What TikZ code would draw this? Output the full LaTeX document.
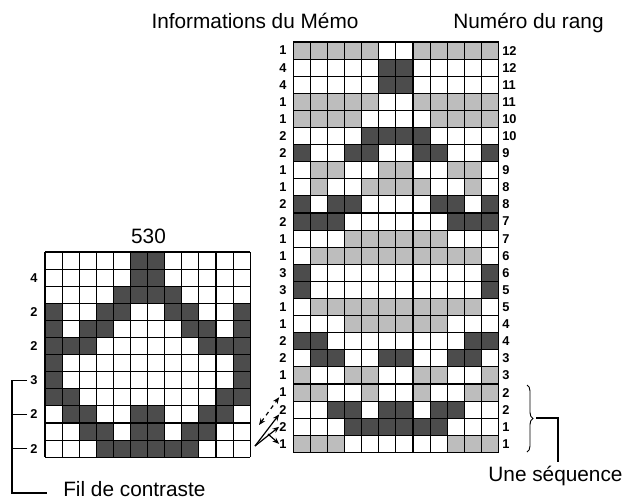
\documentclass[tikz,border=0pt]{standalone}
\usepackage{fontspec}
\setmainfont{Liberation Sans}
\usetikzlibrary{arrows.meta,decorations.pathreplacing}
\begin{document}
\begin{tikzpicture}[x=0.75pt,y=-0.75pt,
  gl/.style={line width=0.8pt,black},
  lc/.style={fill=black!26},
  dc/.style={fill=black!70},
  num/.style={font=\fontsize{9.6}{10}\selectfont\bfseries,inner sep=0pt},
  ttl/.style={font=\fontsize{15.6}{18}\selectfont,inner sep=0pt,anchor=base},
  brk/.style={line width=0.9pt,black},
  arr/.style={line width=0.9pt,-{Stealth[length=5pt,width=4pt]}}]
\useasboundingbox (0,0) rectangle (626,501);
\def\cs{17.1}
% ---------- big grid ----------
\def\bx{293.3}\def\by{42}
\foreach \row [count=\r] in {
{1,1,1,1,1,0,0,1,1,1,1,1},
{0,0,0,0,0,2,2,0,0,0,0,0},
{0,0,0,0,0,2,2,0,0,0,0,0},
{1,1,1,1,1,0,0,1,1,1,1,1},
{1,1,1,1,0,0,0,0,1,1,1,1},
{0,0,0,0,2,2,2,2,0,0,0,0},
{2,0,0,2,2,0,0,2,2,0,0,2},
{0,1,1,0,0,1,1,0,0,1,1,0},
{0,1,0,0,1,1,1,1,0,0,1,0},
{2,0,2,2,0,0,0,0,2,2,0,2},
{2,2,2,0,0,0,0,0,0,2,2,2},
{0,0,0,1,1,1,1,1,1,0,0,0},
{0,1,1,1,1,1,1,1,1,1,1,0},
{2,0,0,0,0,0,0,0,0,0,0,2},
{2,0,0,0,0,0,0,0,0,0,0,2},
{0,1,1,1,1,1,1,1,1,1,1,0},
{0,0,0,1,1,1,1,1,1,0,0,0},
{2,2,0,0,0,0,0,0,0,0,2,2},
{0,2,2,0,0,2,2,0,0,2,2,0},
{1,0,0,1,1,0,0,1,1,0,0,1},
{1,1,0,0,1,0,0,1,0,0,1,1},
{0,0,2,2,0,2,2,0,2,2,0,0},
{0,0,0,2,2,2,2,2,2,0,0,0},
{1,1,1,0,0,0,0,0,0,1,1,1}}{
  \foreach \c [count=\k] in \row {
    \ifnum\c=1 \fill[lc] (\bx+\k*\cs-\cs,\by+\r*\cs-\cs) rectangle ++(\cs,\cs);\fi
    \ifnum\c=2 \fill[dc] (\bx+\k*\cs-\cs,\by+\r*\cs-\cs) rectangle ++(\cs,\cs);\fi
  }
}
\foreach \i in {0,...,12} \draw[gl] (\bx+\i*\cs,\by) -- (\bx+\i*\cs,\by+24*\cs);
\foreach \j in {0,...,24} \draw[gl] (\bx,\by+\j*\cs) -- (\bx+12*\cs,\by+\j*\cs);
\foreach \l [count=\r] in {1,4,4,1,1,2,2,1,1,2,2,1,1,3,3,1,1,2,2,1,1,2,2,1}
  \node[num] (bl\r) at (283,\by+\r*\cs-\cs/2) {\l};
\foreach \l [count=\r] in {12,12,11,11,10,10,9,9,8,8,7,7,6,6,5,5,4,4,3,3,2,2,1,1}
  \node[num,anchor=west] (br\r) at (502,\by+\r*\cs-\cs/2) {\l};
% ---------- small grid ----------
\def\sx{45}\def\sy{252}
\foreach \row [count=\r] in {
{0,0,0,0,0,2,2,0,0,0,0,0},
{0,0,0,0,0,2,2,0,0,0,0,0},
{0,0,0,0,2,2,2,2,0,0,0,0},
{2,0,0,2,2,0,0,2,2,0,0,2},
{2,0,2,2,0,0,0,0,2,2,0,2},
{2,2,2,0,0,0,0,0,0,2,2,2},
{2,0,0,0,0,0,0,0,0,0,0,2},
{2,0,0,0,0,0,0,0,0,0,0,2},
{2,2,0,0,0,0,0,0,0,0,2,2},
{0,2,2,0,0,2,2,0,0,2,2,0},
{0,0,2,2,0,2,2,0,2,2,0,0},
{0,0,0,2,2,2,2,2,2,0,0,0}}{
  \foreach \c [count=\k] in \row {
    \ifnum\c=2 \fill[dc] (\sx+\k*\cs-\cs,\sy+\r*\cs-\cs) rectangle ++(\cs,\cs);\fi
  }
}
\foreach \i in {0,...,12} \draw[gl] (\sx+\i*\cs,\sy) -- (\sx+\i*\cs,\sy+12*\cs);
\foreach \j in {0,...,12} \draw[gl] (\sx,\sy+\j*\cs) -- (\sx+12*\cs,\sy+\j*\cs);
\foreach \l/\r in {4/2,2/4,2/6,3/8,2/10,2/12}
  \node[num] (sl\r) at (34,\sy+\r*\cs-\cs/2) {\l};
% ---------- titles ----------
\node[ttl] (t1) at (255,28.5) {Informations du Mémo};
\node[ttl] (t2) at (528.5,28.5) {Numéro du rang};
\node[ttl] (t3) at (148.5,243) {530};
\node[ttl] (t4) at (555.5,481.5) {Une séquence};
\node[ttl,anchor=base west] (t5) at (63,496) {Fil de contraste};
% ---------- bracket (Fil de contraste) ----------
\coordinate (fb) at (12,493);
\coordinate (fe) at (47,493);
\draw[brk] (sl8.west) ++(-3,0) -| (fb) -- (fe);
\draw[brk] (sl10.west) ++(-3,0) -- (12,\sy+9.5*\cs);
\draw[brk] (sl12.west) ++(-3,0) -- (12,\sy+11.5*\cs);
% ---------- brace (Une séquence) ----------
\draw[brk,line width=0.7pt,decorate,decoration={brace,amplitude=4.5pt}] (527,385) -- (527,452);
\coordinate (bt) at (536,418);
\coordinate (bc) at (558,418);
\draw[brk] (bt) -- (bc) -- (558,462);
% ---------- arrows ----------
\coordinate (o) at (255,446);
\coordinate (d0) at (259,425);
\draw[arr] (o) -- (bl22.south west);
\draw[arr] (o) -- (bl23.west);
\coordinate (a3) at (268,434);
\draw[arr] (a3) -- (bl24.west);
\draw[line width=0.9pt,dashed,{Stealth[length=5pt,width=4pt]}-{Stealth[length=5pt,width=4pt]}] (d0) -- (bl21.south west);
\end{tikzpicture}
\end{document}
